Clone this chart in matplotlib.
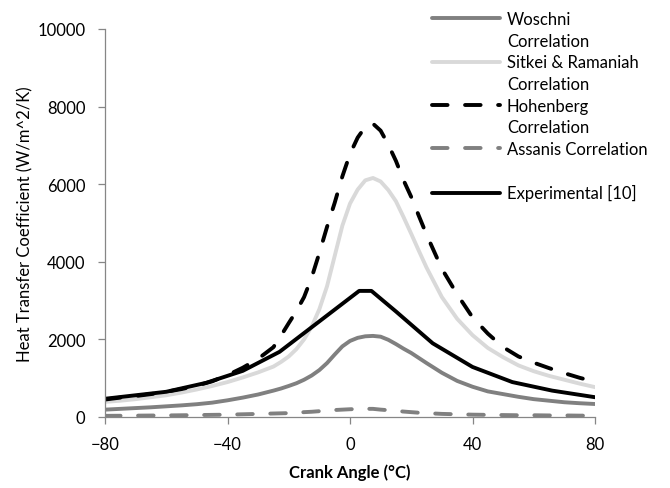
import matplotlib
matplotlib.use("Agg")
import matplotlib.pyplot as plt
import numpy as np

plt.rcParams['font.family'] = ['Lato', 'DejaVu Sans']

# crank angle grid for the smooth correlation curves
ca = [-80, -75, -70, -65, -60, -55, -50, -45, -40, -35, -30, -25, -22.5, -20, -17.5, -15, -12.5, -10,
      -7.5, -5, -2.5, 0, 2.5, 5, 7.5, 10, 12.5, 15, 17.5, 20, 22.5, 25,
      30, 35, 40, 45, 50, 55, 60, 65, 70, 75, 80]

woschni = [190, 210, 230, 250, 275, 300, 330, 370, 430, 500, 580, 680, 735, 800, 870, 960, 1070, 1210,
           1390, 1610, 1820, 1960, 2040, 2080, 2090, 2070, 1990, 1880, 1760, 1650, 1520, 1390,
           1140, 930, 780, 660, 590, 520, 460, 420, 380, 355, 335]
sitkei = [390, 420, 460, 510, 560, 630, 710, 800, 900, 1020, 1150, 1300, 1420, 1560, 1750, 2000, 2330, 2780,
          3370, 4150, 4930, 5500, 5860, 6100, 6160, 6070, 5850, 5560, 5150, 4720, 4280, 3850,
          3090, 2530, 2110, 1780, 1540, 1330, 1180, 1060, 960, 860, 770]
hohenberg = [450, 500, 540, 590, 650, 720, 810, 920, 1080, 1270, 1500, 1800, 2100, 2420, 2730, 3090, 3600, 4230,
             4900, 5520, 6200, 6780, 7200, 7480, 7560, 7380, 7020, 6600, 6100, 5670, 5180, 4700,
             3820, 3160, 2570, 2150, 1800, 1560, 1400, 1260, 1130, 1010, 910]
assanis = [30, 32, 35, 38, 40, 45, 50, 55, 60, 70, 80, 90, 95, 100, 110, 125, 135, 150,
           165, 180, 190, 200, 205, 210, 210, 190, 175, 160, 140, 125, 110, 100,
           80, 70, 60, 55, 50, 45, 45, 40, 40, 35, 35]

# experimental data points
exp_ca = [-80, -60, -47, -35, -23, 3, 7, 15, 27, 40, 53, 66, 80]
exp_h = [470, 650, 880, 1190, 1680, 3250, 3250, 2720, 1900, 1290, 900, 680, 510]

labels = ['Woschni', 'Sitkei & Ramaniah', 'Hohenberg', 'Assanis Correlation', 'Experimental [10]']

fs = 12
fig = plt.figure(figsize=(6.7, 4.89), dpi=100)
ax = fig.add_axes([105/670, 1-418/489, 490/670, 388/489])

lw = 2.8
l1, = ax.plot(ca, woschni, color='#808080', lw=lw, solid_capstyle='round', solid_joinstyle='round')
l2, = ax.plot(ca, sitkei, color='#d9d9d9', lw=lw, solid_capstyle='round', solid_joinstyle='round')
l3, = ax.plot(ca, hohenberg, color='black', lw=lw, dashes=(4, 4.5), dash_capstyle='round')
l4, = ax.plot(ca, assanis, color='#808080', lw=lw, dashes=(4, 4.5), dash_capstyle='round')
l5, = ax.plot(exp_ca, exp_h, color='black', lw=lw, solid_capstyle='round')

ax.set_xlim(-80, 80)
ax.set_ylim(0, 10000)
ax.set_xticks([-80, -40, 0, 40, 80])
ax.set_yticks([0, 2000, 4000, 6000, 8000, 10000])
for s in ['top', 'right']:
    ax.spines[s].set_visible(False)
for s in ['left', 'bottom']:
    ax.spines[s].set_color('#868686')
    ax.spines[s].set_linewidth(0.9)
ax.tick_params(axis='both', colors='#868686', labelcolor='black', labelsize=fs, length=5, width=0.9)
ax.tick_params(axis='y', pad=9)
ax.tick_params(axis='x', pad=9)

ax.set_xlabel('Crank Angle (°C)', fontsize=fs, fontweight='bold', labelpad=8)
ax.set_ylabel('Heat Transfer Coefficient (W/m^2/K)', fontsize=fs, labelpad=3)

# legend in Excel style: the line sits next to the first text line
blank, = ax.plot([], [], color='none')
handles = [l1, blank, l2, blank, l3, blank, l4, blank, l5]
texts = [labels[0], 'Correlation', labels[1], 'Correlation', labels[2], 'Correlation', labels[3], ' ', labels[4]]
ax.legend(handles, texts, loc='upper left', bbox_to_anchor=(432/670, 1-12/489),
          bbox_transform=fig.transFigure, frameon=False, fontsize=fs,
          handlelength=4.1, handletextpad=0.4, labelspacing=0.34, borderpad=0, borderaxespad=0)

fig.savefig('out.png', dpi=100)
